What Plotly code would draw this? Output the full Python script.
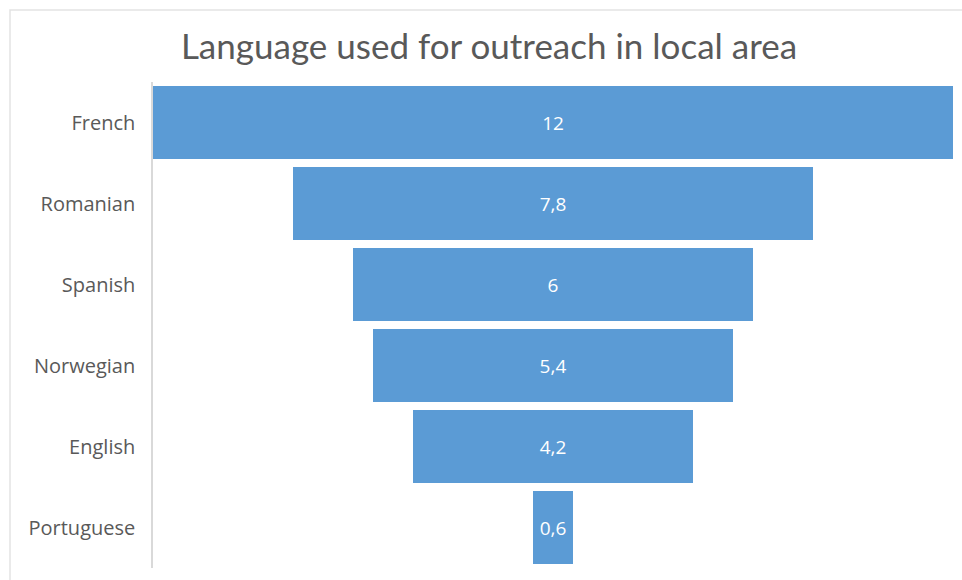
import plotly.graph_objects as go

categories = ["French", "Romanian", "Spanish", "Norwegian", "English", "Portuguese"]
values = [12, 7.8, 6, 5.4, 4.2, 0.6]

W, H = 962, 580
ml, mr, mt, mb = 153, 9, 82, 12

fig = go.Figure(go.Funnel(
    y=categories,
    x=values,
    textinfo="value",
    textposition="inside",
    insidetextanchor="middle",
    textfont=dict(family="Open Sans", size=19, color="white"),
    marker=dict(color="#5B9BD5", line=dict(width=0)),
    connector=dict(visible=False),
))

pw = W - ml - mr
ph = H - mt - mb
fig.add_shape(type="rect", xref="paper", yref="paper",
              x0=(10 - ml) / pw, x1=(W + 20 - ml) / pw,
              y0=-(mb + 20) / ph, y1=(H - mb - 10) / ph,
              line=dict(color="#e3e3e3", width=1.5), fillcolor="rgba(0,0,0,0)", layer="below")

fig.update_layout(
    width=W, height=H,
    margin=dict(l=ml, r=mr, t=mt, b=mb),
    paper_bgcolor="white", plot_bgcolor="white",
    separators=", ",
    funnelgap=0.1,
    showlegend=False,
    title=dict(text="Language used for outreach in local area",
               x=489 / W, xref="container", xanchor="center",
               y=1 - 47 / H, yref="container", yanchor="middle",
               font=dict(family="Lato", size=35, color="#595959")),
    xaxis=dict(visible=False, range=[-6, 6]),
    yaxis=dict(showline=True, linecolor="#d9d9d9", linewidth=1.5,
               ticks="", ticklabelstandoff=12,
               tickfont=dict(family="Open Sans", size=20, color="#595959"),
               showgrid=False),
)

fig.write_html("out.html")
